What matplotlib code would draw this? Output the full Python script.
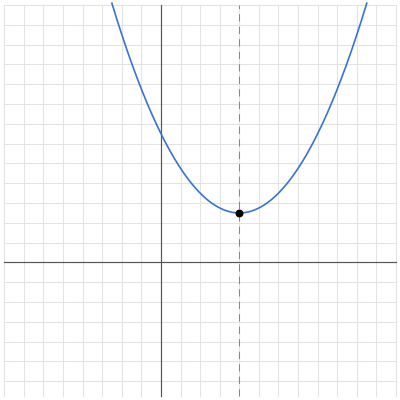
import numpy as np
import matplotlib
matplotlib.use("Agg")
import matplotlib.pyplot as plt

# Parabola y = a (x - h)^2 + k
a = 0.25
vertex_x = 4.0
vertex_y = 2.5
curve_x_domain = [-2.52, 10.52]

# grid extents (data units)
grid_x = list(range(-8, 13))
grid_y = list(range(-6, 14))
grid_x_span = [-8, 12]
grid_y_span = [-6.74, 13]

fig = plt.figure(figsize=(4, 4), dpi=100)
ax = fig.add_axes([0, 0, 1, 1])
ax.set_xlim(-8.22, 12.204)
ax.set_ylim(-6.944, 13.25)
ax.axis("off")

grid_col = "#e3e3e3"
for gx in grid_x:
    ax.plot([gx, gx], grid_y_span, color=grid_col, lw=0.75, zorder=1)
for gy in grid_y:
    ax.plot(grid_x_span, [gy, gy], color=grid_col, lw=0.75, zorder=1)

# main axes
ax.plot(grid_x_span, [0, 0], color="#555555", lw=0.85, zorder=2)
ax.plot([0, 0], grid_y_span, color="#555555", lw=0.85, zorder=2)

# axis of symmetry
ax.plot([vertex_x, vertex_x], grid_y_span, color="#888888", lw=0.75,
        linestyle=(0, (7, 5)), zorder=2)

xs = np.linspace(curve_x_domain[0], curve_x_domain[1], 400)
ys = a * (xs - vertex_x) ** 2 + vertex_y
ax.plot(xs, ys, color="#3675d3", lw=1.2, zorder=3, solid_capstyle="butt")

ax.scatter([vertex_x], [vertex_y], s=22, color="black", zorder=4)

fig.savefig("out.png", dpi=100)
